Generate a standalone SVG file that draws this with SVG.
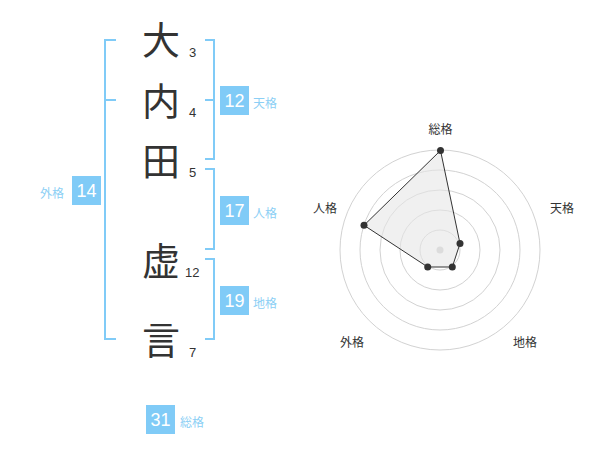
<svg xmlns="http://www.w3.org/2000/svg" width="600" height="470" viewBox="0 0 600 470">
<style>
.kanji{font-family:"Noto Sans CJK JP","Noto Sans CJK SC",sans-serif;font-size:38px;fill:#333;text-anchor:middle}
.strk{font-family:"Liberation Sans",Arial,sans-serif;font-size:13px;fill:#333}
.br{fill:none;stroke:#80cbf7;stroke-width:2}
.badge{fill:#80cbf7}
.bnum{font-family:"Liberation Sans",Arial,sans-serif;font-size:18px;fill:#fff;text-anchor:middle}
.blab{font-family:"Noto Sans CJK JP",sans-serif;font-size:12px;fill:#8ccff5}
.ring{fill:none;stroke:#d2d2d2;stroke-width:1}
.axl{font-family:"Noto Sans CJK JP",sans-serif;font-size:12px;fill:#333;text-anchor:middle}
.pt{fill:#333}
</style>
<rect width="600" height="470" fill="#fff"/>
<g id="name">
<text class="kanji" x="161" y="54">大</text>
<text class="kanji" x="161" y="115">内</text>
<text class="kanji" x="161" y="175">田</text>
<text class="kanji" x="161" y="275">虚</text>
<text class="kanji" x="161" y="354">言</text>
<text class="strk" x="189" y="57">3</text>
<text class="strk" x="189" y="117">4</text>
<text class="strk" x="189" y="177">5</text>
<text class="strk" x="185" y="277">12</text>
<text class="strk" x="189" y="357">7</text>
</g>
<g id="connectors">
<path class="br" d="M116,40 H105 V339 H116 M105,100 H116"/>
<path class="br" d="M205,40 H214 V159 H205 M205,100 H214"/>
<path class="br" d="M205,169 H214 V249 H205"/>
<path class="br" d="M205,259 H214 V339 H205"/>
</g>
<g id="tenkaku">
<rect class="badge" x="220" y="86" width="29" height="29"/>
<text class="bnum" x="234.5" y="107">12</text>
<text class="blab" x="253" y="108">天格</text>
</g>
<g id="jinkaku">
<rect class="badge" x="220" y="196" width="29" height="29"/>
<text class="bnum" x="234.5" y="217">17</text>
<text class="blab" x="253" y="218">人格</text>
</g>
<g id="chikaku">
<rect class="badge" x="220" y="286" width="29" height="29"/>
<text class="bnum" x="234.5" y="307">19</text>
<text class="blab" x="253" y="308">地格</text>
</g>
<g id="gaikaku">
<rect class="badge" x="72" y="176" width="29" height="29"/>
<text class="bnum" x="86.5" y="197">14</text>
<text class="blab" x="40" y="198">外格</text>
</g>
<g id="soukaku">
<rect class="badge" x="146" y="405" width="29" height="29"/>
<text class="bnum" x="160.5" y="426">31</text>
<text class="blab" x="180" y="427">総格</text>
</g>
<g id="radar">
<circle class="ring" cx="440" cy="250" r="20"/>
<circle class="ring" cx="440" cy="250" r="40"/>
<circle class="ring" cx="440" cy="250" r="60"/>
<circle class="ring" cx="440" cy="250" r="80"/>
<circle class="ring" cx="440" cy="250" r="100"/>
<circle cx="440" cy="250" r="3.5" fill="#cccccc"/>
<polygon points="440.5,150.5 460,243.5 452.3,267 427.7,267 364,225.3" fill="#e6e6e6" fill-opacity="0.6" stroke="#333" stroke-width="1"/>
<circle class="pt" cx="440.5" cy="150.5" r="3.5"/>
<circle class="pt" cx="460" cy="243.5" r="3.5"/>
<circle class="pt" cx="452.3" cy="267" r="3.5"/>
<circle class="pt" cx="427.7" cy="267" r="3.5"/>
<circle class="pt" cx="364" cy="225.3" r="3.5"/>
<text class="axl" x="440.5" y="134">総格</text>
<text class="axl" x="562" y="213">天格</text>
<text class="axl" x="525" y="347">地格</text>
<text class="axl" x="352" y="347">外格</text>
<text class="axl" x="325" y="213">人格</text>
</g>
</svg>
